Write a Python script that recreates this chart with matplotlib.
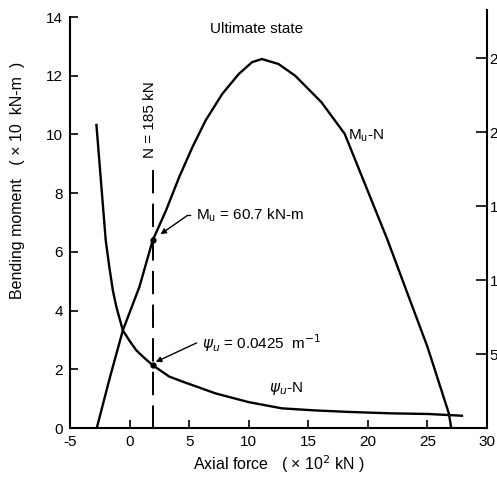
import numpy as np
import matplotlib
matplotlib.use("Agg")
import matplotlib.pyplot as plt

plt.rcParams['font.family'] = ['Liberation Sans', 'DejaVu Sans']
plt.rcParams['mathtext.fontset'] = 'dejavusans'
plt.rcParams['axes.unicode_minus'] = False

# Mu-N interaction curve (axial force x10^2 kN, moment x10 kN-m)
mu_n = [-2.75, -1.67, -0.56, 0.83, 1.94, 3.06, 4.17, 5.28, 6.39, 7.78, 9.17,
        10.28, 11.1, 12.5, 13.9, 15.0, 16.1, 18.06, 21.67,
        23.33, 25.0, 26.8, 27.0]
mu_m = [0.0, 1.69, 3.33, 4.81, 6.39, 7.41, 8.55, 9.57, 10.48, 11.38, 12.06,
        12.46, 12.57, 12.4, 12.0, 11.55, 11.1, 10.02, 6.39,
        4.58, 2.77, 0.5, 0.0]

# psi_u-N curve (curvature x10^-2 1/m, right axis)
psi_n = [-2.78, -2.4, -2.0, -1.7, -1.4, -1.11, -0.56, 0.0, 0.56, 1.2, 1.94,
         3.33, 4.44, 5.28, 7.22, 10.0, 12.78, 15.56, 18.33, 22.0, 25.0, 27.9]
psi_v = [20.5, 16.7, 12.7, 10.9, 9.3, 8.2, 6.6, 5.9, 5.26, 4.77, 4.25,
         3.48, 3.14, 2.9, 2.34, 1.75, 1.33, 1.19, 1.09, 0.99, 0.95, 0.83]

n_design = 1.94         # N = 185 kN
mu_design = 6.39        # Mu = 60.7 kN-m (as drawn)
psi_design = 4.25       # psi_u = 0.0425 1/m

x_ticks = [-5, 0, 5, 10, 15, 20, 25, 30]
y_ticks = [0, 2, 4, 6, 8, 10, 12, 14]
y2_ticks = [0, 5, 10, 15, 20, 25]

fig = plt.figure(figsize=(4.97, 4.78), dpi=100)
ax = fig.add_axes([0.1408, 0.1046, 0.8390, 0.8598])
ax2 = ax.twinx()

ax.plot(mu_n, mu_m, color='black', lw=1.7, solid_joinstyle='round')
ax2.plot(psi_n, psi_v, color='black', lw=1.7, solid_joinstyle='round')

ax.plot([n_design, n_design], [8.8, 0], color='black', lw=1.4, dashes=(12, 5.3))
ax.plot(n_design, mu_design, 'o', color='black', ms=3.5)
ax2.plot(n_design, psi_design, 'o', color='black', ms=3.5)

ax.set_xlim(-5, 30)
ax.set_ylim(0, 14)
ax2.set_ylim(0, 27.8)

ax.set_xticks(x_ticks)
ax.set_yticks(y_ticks)
ax2.set_yticks(y2_ticks)
ax2.set_yticklabels([''] + [str(t) for t in y2_ticks[1:]])

for a in (ax, ax2):
    a.spines['top'].set_visible(False)
    for s in a.spines.values():
        s.set_linewidth(1.5)
ax.spines['right'].set_visible(False)
ax2.spines['left'].set_visible(False)
ax2.spines['bottom'].set_visible(False)
ax2.spines['right'].set_bounds(0, 28.3)

ax.tick_params(axis='both', direction='in', length=6, width=1.2, labelsize=11, pad=5)
ax2.tick_params(axis='y', direction='in', length=8, width=1.2, labelsize=11, pad=2)

ax.text(10.7, 13.6, 'Ultimate state', ha='center', va='center', fontsize=11)
ax.text(18.3, 9.97, '$\\mathregular{M_u}$-N', ha='left', va='center', fontsize=11)
ax.text(11.7, 1.36, '$\\psi_u$-N', ha='left', va='center', fontsize=11)
ax.text(1.7, 10.5, 'N = 185 kN', rotation=90, ha='center', va='center', fontsize=11)

ax.annotate('$\\mathregular{M_u}$ = 60.7 kN-m', xy=(2.6, 6.6), xytext=(5.6, 7.24),
            ha='left', va='center', fontsize=11,
            arrowprops=dict(arrowstyle='-|>', color='black', lw=1.0,
                            connectionstyle='angle,angleA=0,angleB=35,rad=0',
                            shrinkA=2, shrinkB=0, mutation_scale=8))
ax.annotate('$\\psi_u$ = 0.0425  m$^{-1}$', xy=(2.2, 2.25), xytext=(6.1, 2.89),
            ha='left', va='center', fontsize=11,
            arrowprops=dict(arrowstyle='-|>', color='black', lw=1.0,
                            connectionstyle='angle,angleA=0,angleB=25,rad=0',
                            shrinkA=2, shrinkB=0, mutation_scale=8))

ax.set_xlabel('Axial force   ( × 10$^2$ kN )', fontsize=11.5, labelpad=3)
fig.text(0.036, 0.623, 'Bending moment   ( × 10  kN-m  )', rotation=90,
         ha='center', va='center', fontsize=11.5)

fig.savefig('out.png', dpi=100)
